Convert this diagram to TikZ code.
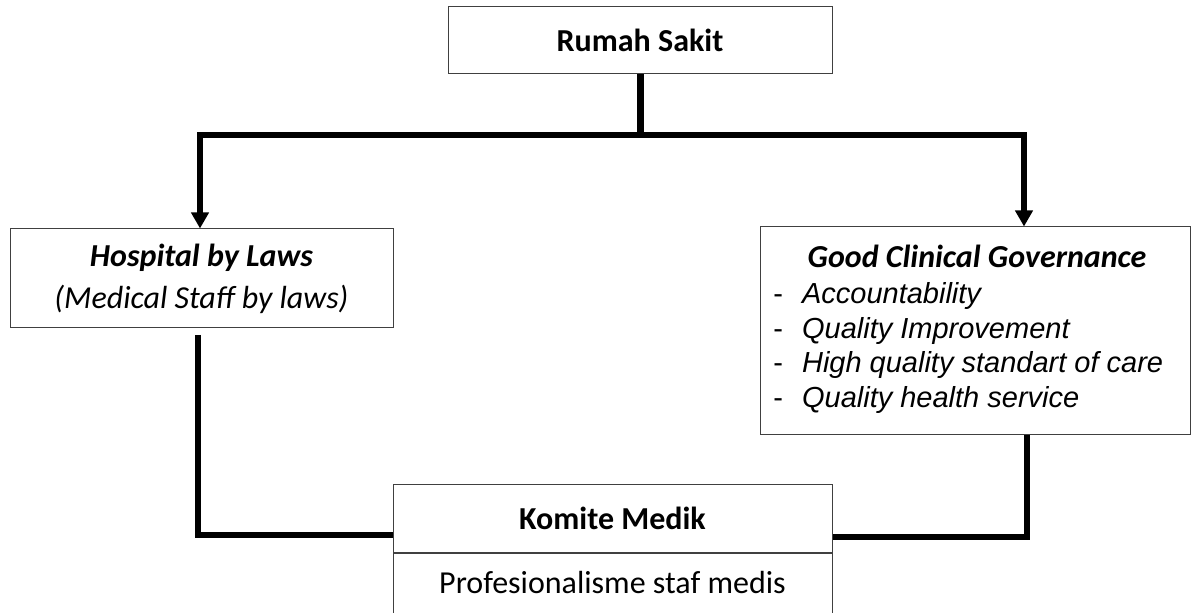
\documentclass[tikz,border=0pt]{standalone}
\usepackage{fontspec}
\setmainfont{Carlito}
\newfontfamily\arialfont{Liberation Sans}
\usepackage{tikz}
\usetikzlibrary{
  positioning,
  arrows.meta
}

\begin{document}
\begin{tikzpicture}[x = 0.5pt, y = -0.5pt,
  box/.style = {draw = black!75, line width = 0.5pt, inner sep = 0pt},
  conn/.style = {line width = 2.75pt},
  big/.style = {font = \fontsize{16}{21}\selectfont}
]
\useasboundingbox (0,0) rectangle (1192,613);

\node [box, big, minimum width = 192pt, minimum height = 33.5pt] (rs) at (640,40.5) {\textbf{Rumah Sakit}};

\node [box, big, align = center, minimum width = 191.5pt, minimum height = 49.5pt] (hbl) at (201.5,278.5)
  {\textbf{\textit{Hospital by Laws}}\\ \textit{(Medical Staff by laws)}};

\node [box, minimum width = 215pt, minimum height = 104pt] (gcg) at (975,331) {};
\node [big, anchor = base, inner sep = 0pt] (gcgtitle) at (977,268) {\textbf{\textit{Good Clinical Governance}}};
\node [anchor = base west, inner sep = 0pt, font = \arialfont\itshape\fontsize{14.5}{17.2}\selectfont] (gcglist) at (773,304)
  {\begin{tabular}[t]{@{}l@{\hspace{9.5pt}}l@{}}
    \upshape - & Accountability \\
    \upshape - & Quality Improvement \\
    \upshape - & High quality standart of care \\
    \upshape - & Quality health service
  \end{tabular}};

\node [box, big, minimum width = 219.5pt, minimum height = 33.5pt] (km) at (612.5,518.5) {\textbf{Komite Medik}};
\node [box, minimum width = 219.5pt, minimum height = 40pt, below = 0pt of km] (kmsub) {};
\node [big, anchor = base, inner sep = 0pt] (kmtext) at (kmsub.north |- 0,593) {Profesionalisme staf medis};

% branches
\coordinate (lt) at (200,135);
\coordinate (rt) at (1024,135);
\draw [line width = 3.5pt] (rs.south) -- (rs.south |- lt);
\draw [conn, {Triangle[width = 8.5pt, length = 8pt]}-{Triangle[width = 8.5pt, length = 8pt]}]
  (hbl.north -| lt) -- (lt) -- (rt) -- (gcg.north -| rt);

% to komite
\coordinate (lb) at (198,335);
\coordinate (rb) at (1027,435);
\draw [conn] (lb) |- (km.west |- 0,535);
\draw [conn] (rb) |- (km.east |- 0,537);

\end{tikzpicture}
\end{document}
